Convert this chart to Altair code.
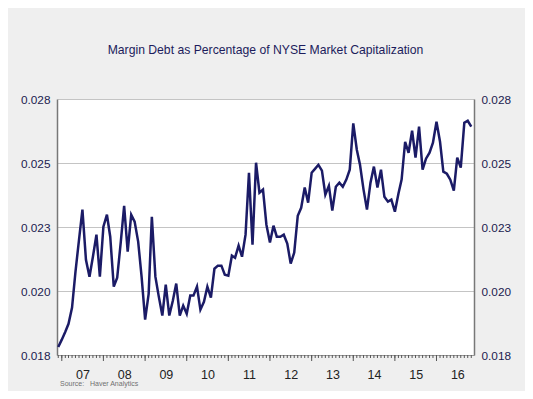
import altair as alt
import pandas as pd

# Monthly ratio of margin debt to NYSE market cap, Dec 2006 .. Nov 2016
values = [
    0.01781, 0.01810, 0.01841, 0.01872, 0.01935, 0.02075, 0.02200, 0.02318, 0.02122, 0.02056,
    0.02134, 0.02220, 0.02056, 0.02251, 0.02298, 0.02212, 0.02017, 0.02052, 0.02189, 0.02333,
    0.02154, 0.02298, 0.02271, 0.02193, 0.02056, 0.01888, 0.01989, 0.02290, 0.02056, 0.01978,
    0.01904, 0.02025, 0.01904, 0.01962, 0.02029, 0.01904, 0.01943, 0.01911, 0.01982, 0.01982,
    0.02017, 0.01927, 0.01958, 0.02017, 0.01974, 0.02087, 0.02099, 0.02099, 0.02064, 0.02060,
    0.02138, 0.02130, 0.02177, 0.02134, 0.02220, 0.02462, 0.02181, 0.02501, 0.02384, 0.02396,
    0.02259, 0.02189, 0.02255, 0.02212, 0.02212, 0.02220, 0.02185, 0.02107, 0.02150, 0.02294,
    0.02325, 0.02404, 0.02345, 0.02462, 0.02478, 0.02493, 0.02470, 0.02376, 0.02411, 0.02314,
    0.02407, 0.02423, 0.02407, 0.02435, 0.02474, 0.02655, 0.02552, 0.02493, 0.02396, 0.02318,
    0.02423, 0.02486, 0.02404, 0.02474, 0.02368, 0.02349, 0.02357, 0.02310, 0.02380, 0.02435,
    0.02583, 0.02540, 0.02626, 0.02521, 0.02642, 0.02474, 0.02517, 0.02540, 0.02579, 0.02661,
    0.02583, 0.02466, 0.02458, 0.02435, 0.02392, 0.02521, 0.02482, 0.02657, 0.02665, 0.02642,
]
start_month = "2006-12-01"

y_tick_values = [0.0175, 0.02, 0.0225, 0.025, 0.0275]
y_tick_labels = ["0.018", "0.020", "0.023", "0.025", "0.028"]
x_label_years = [2007, 2008, 2009, 2010, 2011, 2012, 2013, 2014, 2015, 2016]

title_text = "Margin Debt as Percentage of NYSE Market Capitalization"
source_text = "Source:\u00a0\u00a0\u00a0Haver Analytics"

dates = pd.date_range(start_month, periods=len(values), freq="MS")
df = pd.DataFrame({"date": dates, "ratio": values})
minor_df = pd.DataFrame({"date": pd.date_range("2006-12-01", "2016-11-01", freq="MS")})
major_df = pd.DataFrame({"date": pd.to_datetime([f"{y}-01-01" for y in x_label_years])})
src_df = pd.DataFrame({"t": [source_text]})


def label_expr(vals, labels):
    parts = []
    for i in range(len(vals) - 1):
        thr = (vals[i] + vals[i + 1]) / 2
        parts.append(f"datum.value < {thr} ? '{labels[i]}'")
    return " : ".join(parts) + f" : '{labels[-1]}'"


W, H = 417, 256
FONT = "Liberation Sans"
NAVY = "#1b1b66"

xscale = alt.Scale(domain=[alt.DateTime(year=2006, month=11, date=20),
                           alt.DateTime(year=2016, month=11, date=25)])
yscale = alt.Scale(domain=[0.0175, 0.0275], nice=False, zero=False)

x_axis = alt.Axis(
    title=None,
    values=[alt.DateTime(year=y, month=7, date=2) for y in x_label_years],
    format="%y", ticks=False, grid=False, labelPadding=13,
    labelFontSize=12.5, labelColor="#222222", labelFont=FONT,
    domainColor="#9a9a9a", domainWidth=1, labelOverlap=False,
)

y_common = dict(title=None, values=y_tick_values,
                labelExpr=label_expr(y_tick_values, y_tick_labels),
                ticks=False, labelFontSize=11.8, labelColor="#1c1c50",
                labelFont=FONT, domainColor="#787878", domainWidth=1.5,
                labelPadding=7)

line = alt.Chart(df).mark_line(color=NAVY, strokeWidth=2.5).encode(
    x=alt.X("date:T", scale=xscale, axis=x_axis),
    y=alt.Y("ratio:Q", scale=yscale,
            axis=alt.Axis(orient="left", grid=True, gridColor="#c4c4c4",
                          gridWidth=1, **y_common)),
)

right = alt.Chart(df).mark_line(opacity=0).encode(
    x=alt.X("date:T", scale=xscale),
    y=alt.Y("ratio:Q", scale=yscale,
            axis=alt.Axis(orient="right", grid=False, **y_common)),
)

minor = alt.Chart(minor_df).mark_rule(color="#555555", strokeWidth=1).encode(
    x=alt.X("date:T", scale=xscale),
    y=alt.value(H), y2=alt.value(H + 3),
)
major = alt.Chart(major_df).mark_rule(color="#555555", strokeWidth=1).encode(
    x=alt.X("date:T", scale=xscale),
    y=alt.value(H), y2=alt.value(H + 6),
)

source = alt.Chart(src_df).mark_text(
    align="left", baseline="middle", fontSize=7, color="#707070", font=FONT
).encode(x=alt.value(3), y=alt.value(H + 29), text="t:N")

chart = alt.layer(line, right, minor, major, source).resolve_axis(
    y="independent"
).properties(
    width=W, height=H,
    autosize=alt.AutoSizeParams(type="none"),
    padding={"left": 49, "top": 91, "right": 51, "bottom": 36},
    background="#efefef",
    title=alt.TitleParams(text=title_text, fontSize=12.2, font=FONT,
                          fontWeight="normal", color="#1c1c5c",
                          anchor="middle", offset=38),
).configure_view(fill="white", stroke=None)

chart.save("out.html", embed_options={"renderer": "svg", "actions": False})
